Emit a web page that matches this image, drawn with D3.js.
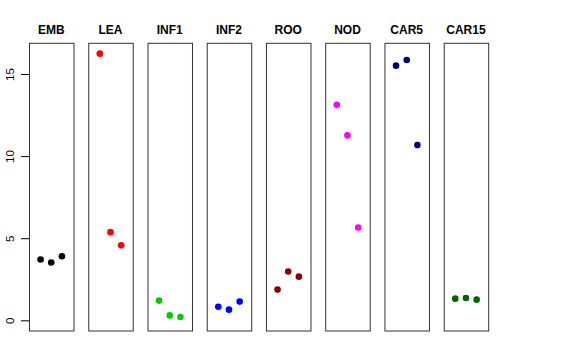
<!DOCTYPE html>
<html>
<head>
<meta charset="utf-8">
<script src="https://cdn.jsdelivr.net/npm/d3@7"></script>
<style>
  html, body { margin: 0; padding: 0; background: #fff; }
  svg { display: block; }
</style>
</head>
<body>
<svg id="chart" width="576" height="360"></svg>
<script>
const categories = ["EMB", "LEA", "INF1", "INF2", "ROO", "NOD", "CAR5", "CAR15"];
const colors = ["#000000", "#FF0000", "#00CD00", "#0000FF", "#8B0000", "#FF00FF", "#000080", "#006400"];
const EMB = [3.70, 3.52, 3.90];
const LEA = [16.24, 5.37, 4.57];
const INF1 = [1.20, 0.30, 0.20];
const INF2 = [0.83, 0.65, 1.14];
const ROO = [1.87, 2.97, 2.66];
const NOD = [13.13, 11.26, 5.65];
const CAR5 = [15.51, 15.85, 10.67];
const CAR15 = [1.32, 1.36, 1.26];
const seriesValues = [EMB, LEA, INF1, INF2, ROO, NOD, CAR5, CAR15];
const yTicks = [0, 5, 10, 15];

const svg = d3.select("#chart");
const plotTop = 43.3, plotBottom = 331;

const y = d3.scaleLinear().domain([-0.65, 16.87]).range([plotBottom, plotTop]);
const xPanel = d3.scaleBand().domain(categories).range([29, 488.2]).paddingInner(0.249).paddingOuter(0);
const w = xPanel.bandwidth();
const xIn = d3.scalePoint().domain([0, 1, 2]).range([0.26 * w, 0.74 * w]);

// y axis on the left of the first panel
const yAxis = d3.axisLeft(y).tickValues(yTicks).tickSize(8).tickPadding(3).tickFormat(d3.format("d"));
const ag = svg.append("g").attr("transform", `translate(${xPanel(categories[0])},0)`).call(yAxis);
ag.select(".domain").remove();
ag.selectAll(".tick line").attr("stroke", "#000").attr("stroke-width", 1);
ag.selectAll(".tick text")
  .attr("transform", "rotate(-90)")
  .attr("x", 0).attr("y", -15.5)
  .attr("dy", 0)
  .attr("text-anchor", "middle")
  .attr("font-family", "Liberation Sans, Arial, sans-serif")
  .attr("font-size", 11.5)
  .attr("fill", "#000");

categories.forEach((cat, i) => {
  const g = svg.append("g").attr("transform", `translate(${xPanel(cat)},0)`);
  g.append("rect")
    .attr("x", 0.5).attr("y", plotTop)
    .attr("width", w).attr("height", plotBottom - plotTop)
    .attr("fill", "none").attr("stroke", "#333").attr("stroke-width", 1);
  g.append("text")
    .attr("x", w / 2).attr("y", 34)
    .attr("text-anchor", "middle")
    .attr("font-family", "Liberation Sans, Arial, sans-serif")
    .attr("font-weight", "bold")
    .attr("font-size", 12)
    .text(cat);
  g.selectAll("circle").data(seriesValues[i]).enter().append("circle")
    .attr("cx", (d, j) => xIn(j))
    .attr("cy", d => y(d))
    .attr("r", 3.3)
    .attr("fill", colors[i]);
});
</script>
</body>
</html>
